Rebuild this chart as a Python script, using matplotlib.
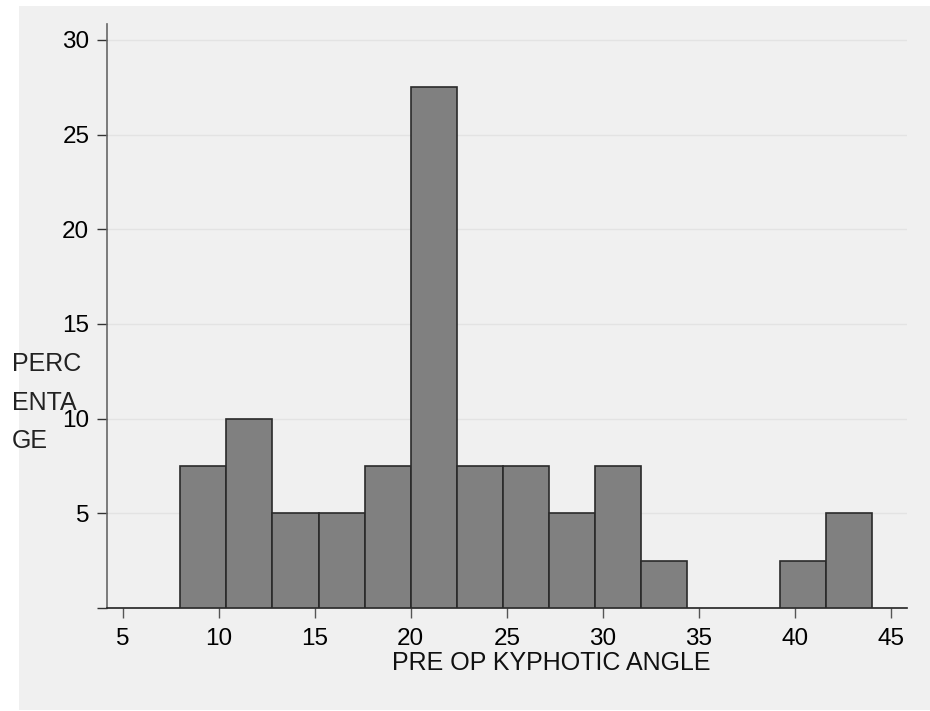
import matplotlib
matplotlib.use("Agg")
import matplotlib.pyplot as plt
from matplotlib.patches import Rectangle

# histogram bins (2.4 wide, 8 to 44) and their percentages
bin_edges = [8.0, 10.4, 12.8, 15.2, 17.6, 20.0, 22.4, 24.8, 27.2, 29.6, 32.0, 34.4, 36.8, 39.2, 41.6, 44.0]
percent = [7.5, 10, 5, 5, 7.5, 27.5, 7.5, 7.5, 5, 7.5, 2.5, 0, 0, 2.5, 5]

x_ticks = [5, 10, 15, 20, 25, 30, 35, 40, 45]
y_ticks = [0, 5, 10, 15, 20, 25, 30]
y_labels = ["", "5", "10", "15", "20", "25", "30"]

plt.rcParams['font.family'] = ['Liberation Sans', 'DejaVu Sans']

fig = plt.figure(figsize=(9.3, 7.11), dpi=100)
fig.patches.append(Rectangle((19/930, 1/711), 1 - 19/930, 704/711,
                             transform=fig.transFigure, facecolor="#f0f0f0",
                             edgecolor="none", zorder=-5))

ax = fig.add_axes([106.7/930, 1 - 608/711, (907 - 106.7)/930, (608 - 24)/711])
ax.set_facecolor("none")
ax.set_zorder(2)

lefts = bin_edges[:-1]
widths = [b - a for a, b in zip(bin_edges[:-1], bin_edges[1:])]
for x0, w, h in zip(lefts, widths, percent):
    if h > 0:
        ax.bar(x0, h, width=w, align="edge", color="#808080",
               edgecolor="#2a2a2a", linewidth=1.2, zorder=3)

ax.set_xlim(4.17, 45.83)
ax.set_ylim(0, 30.84)

for v in y_ticks[1:]:
    ax.axhline(v, color="#e3e3e3", linewidth=1, zorder=1)

ax.set_xticks(x_ticks)
ax.set_yticks(y_ticks)
ax.set_yticklabels(y_labels)
ax.tick_params(axis="x", length=7.5, width=1, color="#555555", pad=7, labelsize=17.5)
ax.tick_params(axis="y", length=7.5, width=1, color="#333333", pad=5, labelsize=17.5)

for s in ["top", "right"]:
    ax.spines[s].set_visible(False)
ax.spines["left"].set_color("#666666")
ax.spines["bottom"].set_color("#222222")
ax.spines["left"].set_linewidth(1.2)
ax.spines["bottom"].set_linewidth(1.2)

fig.text(551/930, 1 - 670/711, "PRE OP KYPHOTIC ANGLE", ha="center", va="baseline",
         fontsize=18, color="#111111", zorder=5)
for i, part in enumerate(["PERC", "ENTA", "GE"]):
    fig.text(12/930, 1 - (371 + 38.5*i)/711, part, ha="left", va="baseline",
             fontsize=18, color="#222222", zorder=5)

fig.savefig("out.png", dpi=100)
